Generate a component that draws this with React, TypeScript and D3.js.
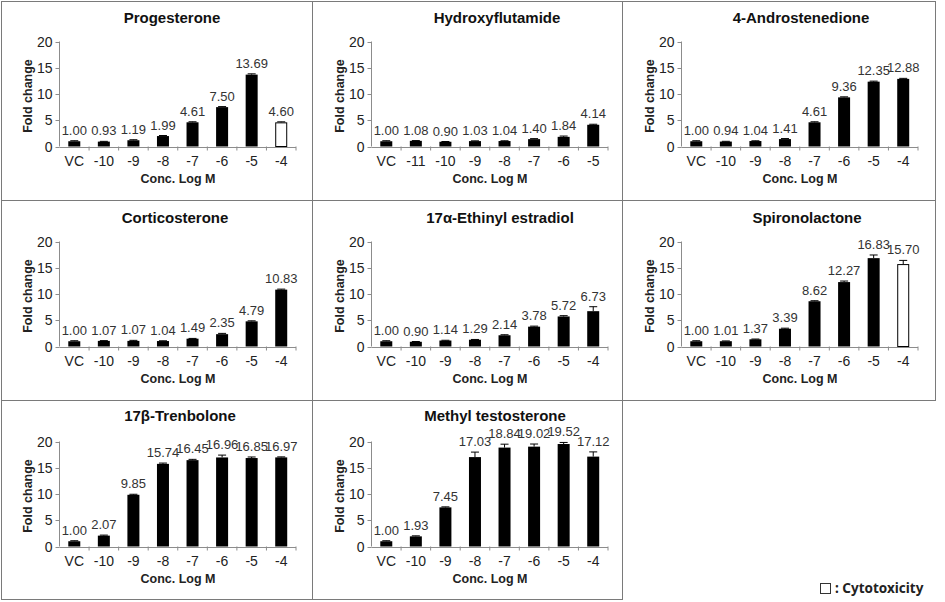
import React from "react";
import * as d3 from "d3";

// ---------- data ----------
const concA = ["VC", "-10", "-9", "-8", "-7", "-6", "-5", "-4"];
const concHF = ["VC", "-11", "-10", "-9", "-8", "-7", "-6", "-5"];

const titles = [
  "Progesterone",
  "Hydroxyflutamide",
  "4-Androstenedione",
  "Corticosterone",
  "17α-Ethinyl estradiol",
  "Spironolactone",
  "17β-Trenbolone",
  "Methyl testosterone",
];

const progesterone = [1.0, 0.93, 1.19, 1.99, 4.61, 7.5, 13.69, 4.6];
const progesteroneErr = [0.1, 0.05, 0.1, 0.1, 0.1, 0.1, 0.15, 0.1];
const hydroxyflutamide = [1.0, 1.08, 0.9, 1.03, 1.04, 1.4, 1.84, 4.14];
const hydroxyflutamideErr = [0.1, 0.05, 0.05, 0.05, 0.05, 0.1, 0.15, 0.1];
const androstenedione = [1.0, 0.94, 1.04, 1.41, 4.61, 9.36, 12.35, 12.88];
const androstenedioneErr = [0.1, 0.05, 0.05, 0.1, 0.1, 0.1, 0.1, 0.1];
const corticosterone = [1.0, 1.07, 1.07, 1.04, 1.49, 2.35, 4.79, 10.83];
const corticosteroneErr = [0.1, 0.05, 0.1, 0.05, 0.05, 0.15, 0.1, 0.1];
const ethinylEstradiol = [1.0, 0.9, 1.14, 1.29, 2.14, 3.78, 5.72, 6.73];
const ethinylEstradiolErr = [0.1, 0.05, 0.05, 0.05, 0.1, 0.1, 0.15, 0.85];
const spironolactone = [1.0, 1.01, 1.37, 3.39, 8.62, 12.27, 16.83, 15.7];
const spironolactoneErr = [0.1, 0.05, 0.05, 0.1, 0.1, 0.2, 0.6, 0.7];
const trenbolone = [1.0, 2.07, 9.85, 15.74, 16.45, 16.96, 16.85, 16.97];
const trenboloneErr = [0.1, 0.1, 0.1, 0.15, 0.15, 0.45, 0.2, 0.1];
const methylTestosterone = [1.0, 1.93, 7.45, 17.03, 18.84, 19.02, 19.52, 17.12];
const methylTestosteroneErr = [0.1, 0.1, 0.1, 0.95, 0.65, 0.5, 0.3, 0.9];

// index of the cytotoxic (white) bar per panel, -1 if none
const cytotoxicIndex = [7, -1, -1, -1, -1, 7, -1, -1];

const yTicks = [0, 5, 10, 15, 20];

const panelValues = [
  progesterone, hydroxyflutamide, androstenedione, corticosterone,
  ethinylEstradiol, spironolactone, trenbolone, methylTestosterone,
];
const panelErrors = [
  progesteroneErr, hydroxyflutamideErr, androstenedioneErr, corticosteroneErr,
  ethinylEstradiolErr, spironolactoneErr, trenboloneErr, methylTestosteroneErr,
];
const panelCats = [concA, concHF, concA, concA, concA, concA, concA, concA];

// ---------- layout ----------
const W = 945;
const H = 602;
const colX = [0, 312, 622];
const rowY = [0, 200, 400];
const titleCx = [172, 185, 179, 175, 188, 185, 180, 183];
const titleDy = [23, 23, 23, 23, 23, 23, 21, 21];
const FONT = "Arial, 'Liberation Sans', Helvetica, sans-serif";

function Panel({ i }: { i: number }) {
  const px = colX[i % 3];
  const py = rowY[Math.floor(i / 3)];
  const cats = panelCats[i];
  const vals = panelValues[i];
  const errs = panelErrors[i];
  const axisX = px + 59.5;
  const xEnd = px + 296;
  const x = d3.scaleBand<string>().domain(cats).range([axisX, xEnd]).padding(0);
  const y = d3.scaleLinear().domain([0, 20]).range([py + 146.5, py + 41.5]);
  const y0 = y(0);
  const barW = 12;
  const capW = 8;
  const axisColor = "#8c8c8c";
  return (
    <g>
      <text
        x={px + titleCx[i]}
        y={py + titleDy[i]}
        textAnchor="middle"
        fontFamily={FONT}
        fontWeight="bold"
        fontSize={15}
        fill="#111"
      >
        {titles[i]}
      </text>
      {/* y axis */}
      <line x1={axisX} x2={axisX} y1={y(20)} y2={y0} stroke={axisColor} strokeWidth={1} />
      {yTicks.map((t) => (
        <g key={t}>
          <line x1={axisX - 4} x2={axisX} y1={Math.round(y(t)) + 0.5} y2={Math.round(y(t)) + 0.5} stroke={axisColor} />
          <text
            x={axisX - 7}
            y={y(t)}
            dy="0.36em"
            textAnchor="end"
            fontFamily={FONT}
            fontSize={14}
            fill="#222"
          >
            {t}
          </text>
        </g>
      ))}
      {/* x axis */}
      <line x1={axisX} x2={xEnd} y1={Math.round(y0) + 0.5} y2={Math.round(y0) + 0.5} stroke={axisColor} />
      {cats.map((c, k) => {
        const bx = (x(c) as number) + x.bandwidth();
        return (
          <line key={"t" + k} x1={bx} x2={bx} y1={y0} y2={y0 + 4} stroke={axisColor} />
        );
      })}
      {cats.map((c, k) => {
        const cx = (x(c) as number) + x.bandwidth() / 2;
        return (
          <text
            key={"c" + k}
            x={cx}
            y={py + 166}
            textAnchor="middle"
            fontFamily={FONT}
            fontSize={14}
            fill="#222"
          >
            {c}
          </text>
        );
      })}
      {/* bars */}
      {vals.map((v, k) => {
        const cx = (x(cats[k]) as number) + x.bandwidth() / 2;
        const white = cytotoxicIndex[i] === k;
        const top = y(v);
        const eTop = y(v + errs[k]);
        return (
          <g key={"b" + k}>
            <line x1={cx} x2={cx} y1={top} y2={eTop} stroke="#000" strokeWidth={1} />
            <line x1={cx - capW / 2} x2={cx + capW / 2} y1={eTop} y2={eTop} stroke="#000" strokeWidth={1} />
            <rect
              x={cx - barW / 2 + (white ? 0.5 : 0)}
              y={top + (white ? 0.5 : 0)}
              width={barW - (white ? 1 : 0)}
              height={y0 - top - (white ? 0.5 : 0)}
              fill={white ? "#fff" : "#000"}
              stroke={white ? "#000" : "none"}
              strokeWidth={1}
            />
            <text
              x={cx}
              y={eTop - 6}
              textAnchor="middle"
              fontFamily={FONT}
              fontSize={13}
              fill="#333"
            >
              {v.toFixed(2)}
            </text>
          </g>
        );
      })}
      {/* axis titles */}
      <text
        x={px + 178}
        y={py + 183}
        textAnchor="middle"
        fontFamily={FONT}
        fontWeight="bold"
        fontSize={12.5}
        fill="#222"
      >
        Conc. Log M
      </text>
      <text
        transform={`translate(${px + 32},${py + 96}) rotate(-90)`}
        textAnchor="middle"
        fontFamily={FONT}
        fontWeight="bold"
        fontSize={12.5}
        fill="#222"
      >
        Fold  change
      </text>
    </g>
  );
}

export default function App() {
  const border = "#7a7a7a";
  const xEdges = [1, 312, 622, 935];
  const yEdges = [1, 200, 400, 599];
  return (
    <svg
      width={W}
      height={H}
      viewBox={`0 0 ${W} ${H}`}
      style={{ position: "absolute", left: 0, top: 0, background: "#fff" }}
    >
      <rect x={0} y={0} width={W} height={H} fill="#fff" />
      {titles.map((_, i) => {
        const c = i % 3;
        const r = Math.floor(i / 3);
        return (
          <rect
            key={"p" + i}
            x={xEdges[c] + 0.5}
            y={yEdges[r] + 0.5}
            width={xEdges[c + 1] - xEdges[c]}
            height={yEdges[r + 1] - yEdges[r]}
            fill="none"
            stroke={border}
            strokeWidth={1}
          />
        );
      })}
      {titles.map((_, i) => (
        <Panel key={i} i={i} />
      ))}
      {/* legend */}
      <rect x={820.5} y={583.5} width={10} height={10} fill="#fff" stroke="#333" strokeWidth={1} />
      <text x={835} y={592.5} fontFamily="'Noto Sans', sans-serif" fontWeight="bold" fontSize={13.5} fill="#222">
        : Cytotoxicity
      </text>
    </svg>
  );
}
